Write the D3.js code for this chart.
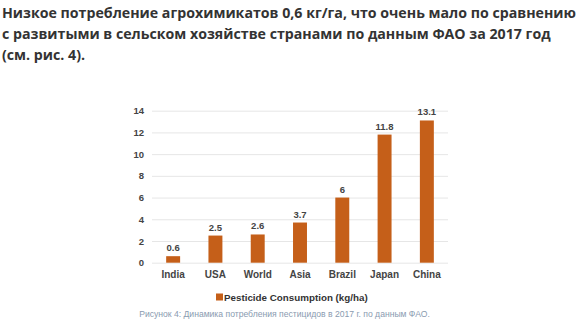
<!DOCTYPE html>
<html><head><meta charset="utf-8">
<script src="https://cdn.jsdelivr.net/npm/d3@7"></script>
<style>
body{margin:0;background:#fff;}
svg{display:block;}
</style></head>
<body>
<svg id="c" width="588" height="335"></svg>
<script>
const titleLines = [
  "Низкое потребление агрохимикатов 0,6 кг/га, что очень мало по сравнению",
  "с развитыми в сельском хозяйстве странами по данным ФАО за 2017 год",
  "(см. рис. 4)."
];
const categories = ["India","USA","World","Asia","Brazil","Japan","China"];
const values = [0.6, 2.5, 2.6, 3.7, 6, 11.8, 13.1];
const valueLabels = ["0.6","2.5","2.6","3.7","6","11.8","13.1"];
const yTicks = [0,2,4,6,8,10,12,14];
const seriesName = "Pesticide Consumption (kg/ha)";
const caption = "Рисунок 4: Динамика потребления пестицидов в 2017 г. по данным ФАО.";

(function(){
const svg = d3.select("#c");
const barColor = "#c55f19";
const af = "Arial, 'Liberation Sans', sans-serif";

svg.append("g").selectAll("text").data(titleLines).join("text")
  .attr("x", 2).attr("y", (d,i)=>18 + i*21)
  .attr("font-family","'Open Sans', sans-serif").attr("font-weight","bold")
  .attr("font-size", 14.2).attr("fill","#333").text(d=>d);

const pl = 152, pr = 448, pt = 110.7, pb = 262.7;
const x = d3.scaleBand().domain(categories).range([pl,pr]).paddingInner(0.67).paddingOuter(0.335);
const y = d3.scaleLinear().domain([0,14]).range([pb, pt]);

const yAxis = svg.append("g").attr("transform",`translate(${pl},0)`)
  .call(d3.axisLeft(y).tickValues(yTicks).tickSize(-(pr-pl)).tickPadding(8).tickFormat(d3.format("d")));
yAxis.select(".domain").remove();
yAxis.selectAll(".tick line").attr("stroke","#e6e6e6").attr("stroke-width",1);
yAxis.selectAll(".tick text").attr("font-family",af)
  .attr("font-weight","bold").attr("font-size",9.5).attr("fill","#444");

svg.append("g").selectAll("rect").data(values).join("rect")
  .attr("x",(d,i)=>x(categories[i])).attr("width",x.bandwidth())
  .attr("y",d=>y(d)).attr("height",d=>pb - y(d)).attr("fill",barColor);

svg.append("g").selectAll("text").data(values).join("text")
  .attr("x",(d,i)=>x(categories[i])+x.bandwidth()/2).attr("y",d=>y(d)-5)
  .attr("text-anchor","middle").attr("font-family",af)
  .attr("font-weight","bold").attr("font-size",9.5).attr("fill","#444")
  .text((d,i)=>valueLabels[i]);

const xAxis = svg.append("g").attr("transform",`translate(0,${pb})`)
  .call(d3.axisBottom(x).tickSize(0).tickPadding(8));
xAxis.select(".domain").remove();
xAxis.selectAll(".tick text").attr("font-family",af)
  .attr("font-weight","bold").attr("font-size",10).attr("fill","#444");

const lg = svg.append("g");
lg.append("rect").attr("x",216).attr("y",293.5).attr("width",7).attr("height",7).attr("fill",barColor);
lg.append("text").attr("x",224).attr("y",300.5).attr("font-family",af)
  .attr("font-weight","bold").attr("font-size",9.8).attr("fill","#333").text(seriesName);

svg.append("text").attr("x",284.5).attr("y",316.5).attr("text-anchor","middle")
  .attr("font-family",af).attr("font-size",8.6)
  .attr("fill","#8a9bb0").text(caption);
})();
</script>
</body></html>
